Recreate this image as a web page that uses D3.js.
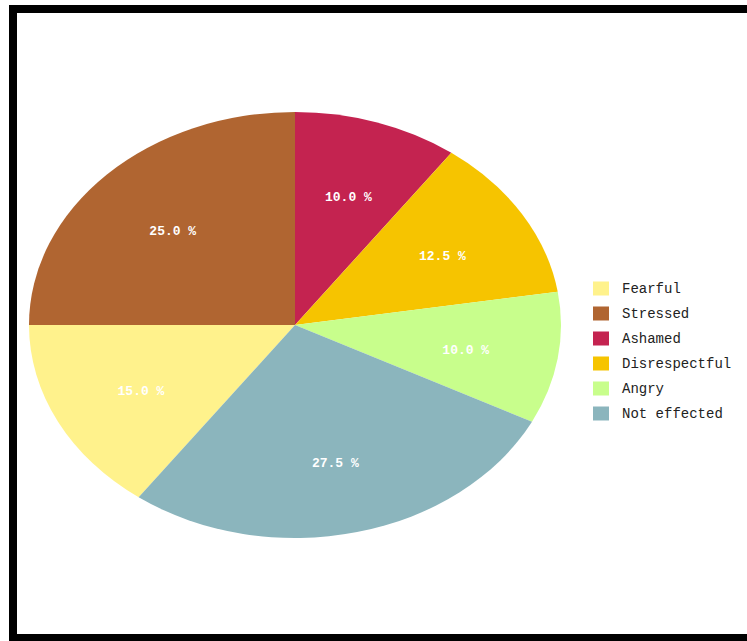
<!DOCTYPE html>
<html>
<head>
<meta charset="utf-8">
<script src="https://cdn.jsdelivr.net/npm/d3@7"></script>
<style>
  html, body { margin: 0; padding: 0; background: #fff; }
  svg { display: block; }
</style>
</head>
<body>
<svg id="chart" width="747" height="641"></svg>
<script>
const categories = ["Fearful", "Stressed", "Ashamed", "Disrespectful", "Angry", "Not effected"];
const values = [15.0, 25.0, 10.0, 12.5, 10.0, 27.5];
const labels = ["15.0 %", "25.0 %", "10.0 %", "12.5 %", "10.0 %", "27.5 %"];
const colors = ["#fff28c", "#b06531", "#c42350", "#f6c400", "#c8fe8c", "#8bb5bd"];

const svg = d3.select("#chart");
const W = 747, H = 641;

// frame
svg.append("rect").attr("x", 0).attr("y", 0).attr("width", W).attr("height", H).attr("fill", "#fff");
svg.append("rect")
  .attr("x", 13).attr("y", 9).attr("width", 760).attr("height", 629)
  .attr("fill", "none").attr("stroke", "#000").attr("stroke-width", 8);

const cx = 295, cy = 325, rx = 266, ry = 213;
const k = ry / rx;

const pie = d3.pie().sort(null).value(d => d.v)
  .startAngle(-144 * Math.PI / 180)
  .endAngle(216 * Math.PI / 180);
const data = categories.map((c, i) => ({ c, v: values[i], label: labels[i], color: colors[i] }));
const arcs = pie(data);

const arc = d3.arc().innerRadius(0).outerRadius(rx);
const labelArc = d3.arc().innerRadius(rx * 0.65).outerRadius(rx * 0.65);

const g = svg.append("g").attr("transform", `translate(${cx},${cy}) scale(1,${k})`);
g.selectAll("path").data(arcs).enter().append("path")
  .attr("d", arc)
  .attr("fill", d => d.data.color);

const lg = svg.append("g").attr("transform", `translate(${cx},${cy + 4})`);
lg.selectAll("text").data(arcs).enter().append("text")
  .attr("x", d => labelArc.centroid(d)[0])
  .attr("y", d => labelArc.centroid(d)[1] * k)
  .attr("text-anchor", "middle")
  .attr("dominant-baseline", "central")
  .attr("fill", "#fff")
  .attr("font-family", "'Liberation Mono', 'DejaVu Sans Mono', monospace")
  .attr("font-weight", "bold")
  .attr("font-size", 13)
  .text(d => d.data.label);

// legend
const legend = svg.append("g");
const ly = d3.scaleBand().domain(categories).range([276, 426]);
const items = legend.selectAll("g").data(data).enter().append("g")
  .attr("transform", d => `translate(593,${ly(d.c) + ly.bandwidth() / 2})`);
items.append("rect")
  .attr("x", 0).attr("y", -7).attr("width", 16).attr("height", 14)
  .attr("fill", d => d.color);
items.append("text")
  .attr("x", 29).attr("y", 0)
  .attr("dominant-baseline", "central")
  .attr("fill", "#222")
  .attr("font-family", "'Liberation Mono', 'DejaVu Sans Mono', monospace")
  .attr("font-size", 14)
  .text(d => d.c);
</script>
</body>
</html>
